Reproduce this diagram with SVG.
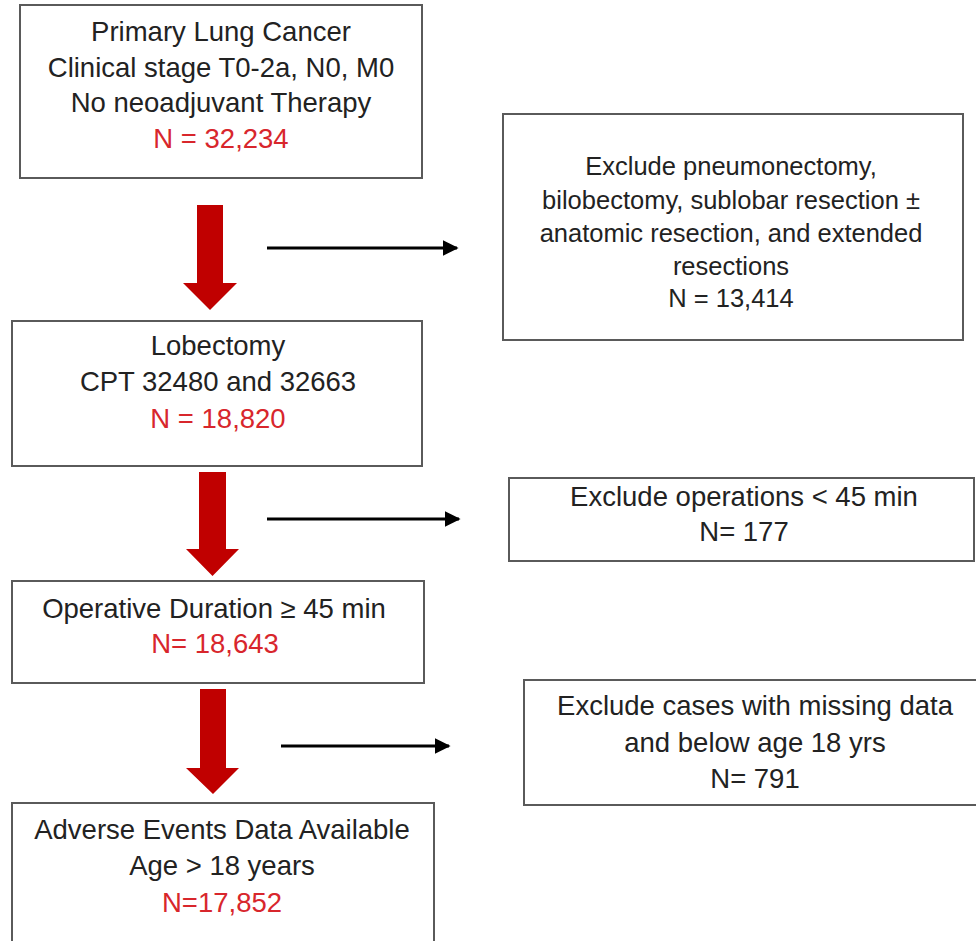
<svg xmlns="http://www.w3.org/2000/svg" width="976" height="941" viewBox="0 0 976 941">
<defs>
<style>
.box{fill:#fff;stroke:#5a5a5a;stroke-width:2}
.t{font-family:"Liberation Sans",Arial,sans-serif;font-size:27.5px;fill:#222;text-anchor:middle}
.s{font-size:25.5px}
.r{fill:#d8262c}
.red{fill:#c00000}
.blk{stroke:#000;stroke-width:3.2;fill:none}
</style>
<marker id="ah" viewBox="0 0 10 10" refX="9" refY="5" markerWidth="5" markerHeight="5" markerUnits="strokeWidth" orient="auto">
<path d="M0,0 L10,5 L0,10 z" fill="#000"/>
</marker>
</defs>
<rect width="976" height="941" fill="#fff"/>
<g id="connectors">
<polygon class="red" points="197,205 223,205 223,283 237,283 210,310 183,283 197,283"/>
<polygon class="red" points="199,472 226,472 226,549 239,549 212.5,576 186,549 199,549"/>
<polygon class="red" points="200,689 226,689 226,768 239,768 213,794 186,768 200,768"/>
<line class="blk" x1="267" y1="248" x2="457" y2="248" marker-end="url(#ah)"/>
<line class="blk" x1="267" y1="519" x2="459" y2="519" marker-end="url(#ah)"/>
<line class="blk" x1="281" y1="746" x2="449" y2="746" marker-end="url(#ah)"/>
</g>
<g id="n1">
<rect class="box" x="20" y="5" width="402" height="173"/>
<text class="t" x="221" y="41">Primary Lung Cancer</text>
<text class="t" x="221" y="77">Clinical stage T0-2a, N0, M0</text>
<text class="t" x="221" y="112">No neoadjuvant Therapy</text>
<text class="t r" x="221" y="148">N = 32,234</text>
</g>
<g id="n2">
<rect class="box" x="12" y="321" width="410" height="145"/>
<text class="t" x="218" y="355">Lobectomy</text>
<text class="t" x="218" y="391">CPT 32480 and 32663</text>
<text class="t r" x="218" y="428">N = 18,820</text>
</g>
<g id="n3">
<rect class="box" x="12" y="581" width="412" height="102"/>
<text class="t" x="214" y="618">Operative Duration ≥ 45 min</text>
<text class="t r" x="215" y="653">N= 18,643</text>
</g>
<g id="n4">
<rect class="box" x="12" y="803" width="422" height="160"/>
<text class="t" x="222" y="839">Adverse Events Data Available</text>
<text class="t" x="222" y="875">Age &gt; 18 years</text>
<text class="t r" x="222" y="912">N=17,852</text>
</g>
<g id="x1">
<rect class="box" x="503" y="114" width="460" height="226"/>
<text class="t s" x="731" y="175">Exclude pneumonectomy,</text>
<text class="t s" x="731" y="209">bilobectomy, sublobar resection ±</text>
<text class="t s" x="731" y="242">anatomic resection, and extended</text>
<text class="t s" x="731" y="275">resections</text>
<text class="t s" x="731" y="307">N = 13,414</text>
</g>
<g id="x2">
<rect class="box" x="509" y="478" width="465" height="83"/>
<text class="t" x="744" y="506">Exclude operations &lt; 45 min</text>
<text class="t" x="744" y="541">N= 177</text>
</g>
<g id="x3">
<rect class="box" x="524" y="680" width="462" height="125"/>
<text class="t" x="755" y="715">Exclude cases with missing data</text>
<text class="t" x="755" y="752">and below age 18 yrs</text>
<text class="t" x="755" y="788">N= 791</text>
</g>
</svg>
